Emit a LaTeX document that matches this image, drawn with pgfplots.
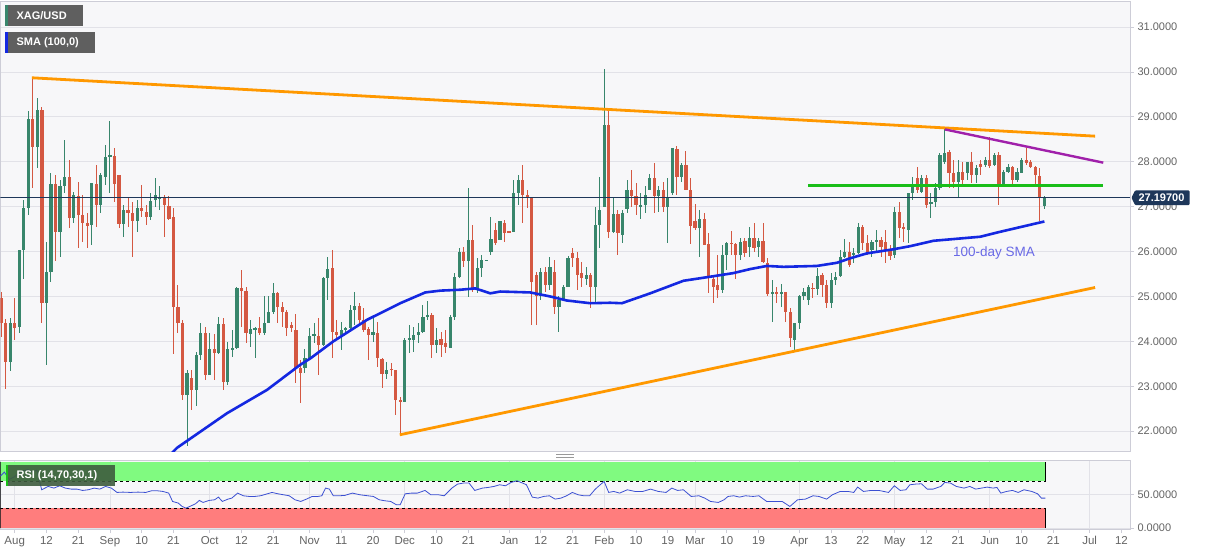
\documentclass[border=0pt]{standalone}
\usepackage{pgfplots}
\pgfplotsset{compat=1.18}
\usepackage{pgfplotstable}
\usepackage{fontspec}
\setmainfont{Liberation Sans}

\definecolor{cup}{RGB}{56,134,108}
\definecolor{cdn}{RGB}{212,88,66}
\definecolor{bgc}{RGB}{247,247,249}
\definecolor{gridc}{RGB}{226,226,232}
\definecolor{axisc}{RGB}{205,205,215}
\definecolor{labc}{RGB}{100,100,100}
\definecolor{trendor}{RGB}{255,152,0}
\definecolor{purp}{RGB}{160,32,170}
\definecolor{hgreen}{RGB}{25,190,25}
\definecolor{smablue}{RGB}{20,40,225}
\definecolor{navy}{RGB}{30,55,90}
\definecolor{rsiblue}{RGB}{60,80,210}
\definecolor{bandg}{RGB}{128,250,128}
\definecolor{bandr}{RGB}{255,125,125}
\definecolor{boxg}{RGB}{95,95,95}
\definecolor{boxrsi}{RGB}{62,92,62}
\definecolor{smatext}{RGB}{105,105,230}

\pgfplotstableread{
i O H L C
-1 23.55 24.51 23.33 24.40
1 24.33 26.03 24.18 26.03
2 26.03 27.15 25.40 26.96
3 26.96 29.12 26.81 28.95
5 28.32 29.41 27.85 29.15
7 24.85 26.22 23.47 25.55
8 25.55 27.74 25.33 27.50
10 26.44 27.59 25.89 27.46
11 27.46 28.48 27.30 27.67
13 26.74 27.33 26.63 27.26
17 26.59 27.52 26.15 27.52
19 27.04 27.74 26.85 27.71
20 27.67 28.37 27.48 28.11
21 28.11 28.91 27.30 28.15
24 26.61 27.04 26.33 26.93
27 26.69 27.15 26.44 26.96
30 26.76 27.30 26.70 27.13
31 27.15 27.63 27.00 27.26
32 27.16 27.45 26.93 27.22
38 22.81 23.36 21.68 23.29
40 22.92 23.77 22.55 23.70
41 23.70 24.42 23.59 24.19
43 23.25 24.19 23.25 23.82
45 23.75 24.55 23.73 24.38
47 23.10 23.99 23.03 23.82
48 23.81 24.25 23.66 23.86
49 23.86 25.20 23.84 25.18
52 24.17 24.48 23.88 24.27
53 24.26 24.33 23.62 24.29
55 24.18 25.00 24.14 24.42
56 24.42 25.00 24.40 24.66
57 24.66 25.31 24.62 25.07
64 23.40 23.84 23.29 23.62
65 23.62 24.29 23.59 24.11
66 24.11 24.40 23.96 24.16
68 23.92 25.44 23.90 25.41
69 25.41 25.87 24.92 25.61
72 24.14 24.44 23.81 24.26
73 24.26 24.33 24.22 24.29
74 24.29 24.81 24.26 24.70
75 24.70 25.11 24.37 24.79
79 24.14 24.52 23.99 24.20
82 23.28 23.55 23.16 23.36
86 22.64 24.07 22.64 24.03
87 24.03 24.37 23.74 24.07
88 24.03 24.31 23.77 24.14
89 24.14 24.40 23.96 24.22
90 24.22 24.81 24.18 24.55
91 24.55 24.89 24.48 24.59
93 23.92 24.29 23.74 24.03
96 23.85 24.59 23.85 24.55
97 24.55 25.52 24.48 25.44
98 25.44 26.07 25.41 26.00
100 25.79 27.41 24.99 26.26
102 25.18 25.85 25.07 25.63
103 25.63 25.92 25.44 25.81
104 25.81 25.81 25.81 25.81
105 26.00 26.78 25.92 26.29
107 26.26 26.67 26.26 26.67
110 26.44 27.59 26.44 27.30
111 27.30 27.71 27.04 27.59
116 25.00 25.63 24.92 25.55
118 25.26 25.89 25.14 25.66
120 24.77 25.00 24.21 24.92
121 24.92 25.26 24.90 25.22
122 25.22 25.90 25.20 25.85
126 25.38 25.66 25.26 25.48
128 25.22 26.99 24.88 26.59
129 26.59 27.67 26.07 26.93
130 27.00 30.06 27.00 28.82
132 26.44 27.19 26.41 26.84
134 26.37 26.93 26.20 26.85
135 26.94 27.59 26.85 27.36
138 27.00 27.30 26.72 27.04
139 27.04 27.46 26.85 27.26
140 27.37 27.73 27.37 27.63
142 27.24 27.45 26.89 27.37
144 27.00 27.63 26.20 27.22
145 27.30 28.30 27.26 28.30
147 27.67 27.97 27.56 27.93
151 26.52 26.93 25.89 26.72
156 25.15 26.15 25.07 25.93
157 25.93 26.22 25.59 26.20
160 25.93 26.30 25.82 26.22
162 26.11 26.54 25.89 26.30
164 26.11 26.30 25.89 26.24
167 25.05 25.37 24.44 25.11
169 25.05 25.28 24.77 25.11
172 24.02 24.41 23.78 24.41
173 24.41 25.03 24.27 25.00
174 25.00 25.18 24.92 25.09
175 24.92 25.26 24.81 25.20
177 25.16 25.63 25.03 25.46
180 24.85 25.52 24.74 25.37
181 25.37 25.55 25.26 25.44
182 25.46 26.04 25.44 25.88
183 25.88 26.29 25.85 26.00
185 25.92 26.07 25.74 25.96
186 25.96 26.64 25.94 26.55
189 26.03 26.25 25.89 26.22
190 26.22 26.48 25.96 26.26
194 25.92 27.00 25.85 26.89
197 26.48 27.30 26.18 27.30
198 27.30 27.67 27.15 27.44
200 27.33 27.70 27.30 27.63
202 27.06 27.30 26.74 27.11
203 27.11 27.52 27.00 27.41
204 27.41 28.20 27.38 28.15
205 28.00 28.74 27.96 28.20
208 27.56 28.04 27.22 27.78
210 27.74 28.00 27.59 28.00
212 27.70 27.93 27.52 27.85
214 27.93 28.11 27.89 28.04
216 27.93 28.19 27.90 28.15
218 27.50 27.82 27.48 27.78
219 27.78 27.96 27.76 27.88
221 27.59 27.85 27.56 27.78
222 27.76 28.08 27.74 28.04
227 27.02 27.24 26.94 27.197
}\upT

\pgfplotstableread{
i O H L C
-3 24.96 25.10 24.10 24.40
-2 24.40 24.50 22.95 23.55
0 24.40 24.96 24.03 24.29
4 28.95 29.88 27.41 28.32
6 29.15 29.23 24.40 24.85
9 27.50 27.71 25.78 26.44
12 27.67 28.04 26.52 26.74
14 27.24 27.56 26.07 26.81
15 26.81 27.26 26.22 26.63
16 26.63 26.85 26.07 26.58
18 27.50 27.93 26.55 27.04
22 28.13 28.30 27.11 27.50
23 27.71 27.71 26.52 26.61
25 26.93 27.19 26.55 26.85
26 26.85 27.11 25.89 26.67
28 26.96 27.48 26.78 26.91
29 26.89 27.04 26.59 26.76
33 27.19 27.26 26.33 27.04
34 27.01 27.24 26.70 26.72
35 26.78 26.96 23.73 24.77
36 24.77 25.26 24.18 24.40
37 24.40 24.48 22.69 22.81
39 23.18 23.36 22.47 22.92
42 24.19 24.33 23.14 23.25
44 23.82 24.17 23.14 23.75
46 24.38 24.51 22.92 23.10
50 25.18 25.59 24.33 25.12
51 25.12 25.22 23.96 24.18
54 24.29 24.55 24.14 24.18
58 25.07 25.11 24.40 24.77
59 24.77 24.88 24.33 24.66
60 24.66 24.70 24.11 24.29
61 24.36 24.44 24.22 24.29
62 24.25 24.62 23.07 23.40
63 23.40 23.59 22.62 23.29
67 24.12 24.52 23.25 23.92
70 25.63 26.04 23.62 24.22
71 24.22 24.48 24.07 24.14
76 24.79 24.85 24.40 24.48
77 24.48 24.74 24.22 24.26
78 24.27 24.33 23.59 24.14
80 24.18 24.44 23.44 23.62
81 23.60 23.62 22.96 23.28
83 23.39 23.51 23.22 23.36
84 23.36 23.36 22.36 22.70
85 22.70 22.77 21.92 22.64
92 24.59 24.63 23.62 23.92
94 24.05 24.22 23.66 23.92
95 23.96 24.26 23.74 23.87
99 26.00 26.11 25.66 25.79
101 26.26 26.59 25.10 25.14
106 26.48 26.63 26.15 26.18
108 26.63 26.70 26.22 26.42
109 26.44 26.44 26.44 26.44
112 27.59 27.93 26.63 27.26
113 27.26 27.37 26.96 27.19
114 27.19 27.19 24.36 25.33
115 25.48 25.55 24.36 25.00
117 25.55 25.66 25.10 25.26
119 25.55 25.81 24.62 24.77
123 25.96 26.07 25.66 25.85
124 25.85 26.00 25.14 25.48
125 25.52 25.77 25.22 25.41
127 25.48 25.52 24.74 25.22
131 28.82 29.15 26.30 26.44
133 26.84 26.93 25.92 26.41
136 27.36 27.82 27.00 27.24
137 27.24 27.52 26.81 27.04
141 27.63 27.97 26.85 27.24
143 27.37 27.56 26.89 27.00
146 28.28 28.35 27.26 27.67
148 27.93 28.23 27.37 27.37
149 27.37 27.63 26.17 26.57
150 26.67 27.07 26.47 26.52
152 26.72 26.85 26.15 26.15
153 26.17 26.41 25.07 25.44
154 25.38 25.48 24.85 25.22
155 25.26 25.92 24.96 25.15
158 26.20 26.46 25.93 26.17
159 26.17 26.20 25.40 25.93
161 26.24 26.30 25.89 25.96
163 26.30 26.64 26.00 26.07
165 26.24 26.63 25.74 25.77
166 25.74 25.85 25.00 25.05
168 25.11 25.22 24.85 25.05
170 25.11 25.11 24.44 24.66
171 24.66 24.74 23.88 24.07
176 25.20 25.29 24.96 25.16
178 25.48 25.52 24.99 25.26
179 25.26 25.37 24.74 24.85
184 26.00 26.22 25.65 25.70
187 26.55 26.59 26.04 26.20
188 26.20 26.37 25.92 26.00
191 26.26 26.33 25.89 26.11
192 26.22 26.48 25.74 26.03
193 26.03 26.15 25.81 25.90
195 26.89 27.11 26.30 26.52
196 26.54 26.63 26.22 26.50
199 27.63 27.89 27.30 27.37
201 27.63 27.70 26.96 27.04
206 28.22 28.26 27.41 27.74
207 27.74 28.04 27.41 27.56
209 27.78 28.00 27.48 27.59
211 28.00 28.22 27.52 27.70
213 27.96 28.04 27.70 27.89
215 28.04 28.56 27.85 27.91
217 28.15 28.22 27.04 27.50
220 27.88 27.90 27.48 27.59
223 28.04 28.30 27.93 27.98
224 28.00 28.05 27.85 27.88
225 27.88 27.90 27.48 27.70
226 27.69 27.85 26.67 27.21
}\dnT

\pgfplotstableread{
px p
160 21.25
176.7 21.63
226.7 22.40
266.7 22.92
300 23.48
310 23.62
333 24.00
366.7 24.48
400 24.85
425 25.09
440 25.13
460 25.15
475 25.18
490 25.07
500 25.11
530 25.09
550 25.00
566.7 24.91
590 24.85
610 24.86
621.7 24.85
650 25.07
683.3 25.35
710 25.44
733 25.52
750 25.61
766.7 25.68
783.3 25.66
816.7 25.68
836.7 25.75
850 25.85
866.7 25.96
893 26.05
910 26.12
933.3 26.24
980 26.33
1000 26.44
1044.3 26.67
}\smaT

\pgfplotstableread{
px v
0 78
4 84
9 73
14 77
18 82
23 86
27.5 88
32 84
36.5 87
41.3 57.5
47.8 62.5
53.6 60
59.3 63.5
65 60
70.8 58.5
76.5 58.5
82.3 56.5
88 57.5
93.8 60
99.5 58.5
105.2 62.5
111 60
116.7 53.5
122.5 54
130.1 53.5
137.8 54
145.4 53.5
151.2 56
156.9 56
162.6 55
168.4 52.5
172.2 40
178 37.5
181.8 32.5
185.6 30
189.4 32.5
195.2 36.5
199 41.5
202.8 38.5
208.6 41.5
214.3 42.5
218.1 46.5
222 40
227.7 43.5
231.5 45
237.3 52.5
243 48.5
248.8 47.5
254.5 47.5
260.2 48.5
266 51
271.7 53.5
277.5 51.5
283.2 50
288.9 48.5
294.7 42.5
300.4 40
306.2 43.5
311.9 47.5
317.6 47.5
321.5 48.5
325.3 60
329.1 58.5
333 48.5
338.7 48.5
344.4 49
352.1 52.5
359.7 50
367.4 48.5
373.1 47.5
378.9 42.5
384.6 41
390.4 40
396.1 35
399.9 35
404.9 51.5
411.4 52.5
417.1 52.5
424.8 56.5
430.5 50
438.2 50
443.9 48.5
451.6 60
457.3 66
463.1 67.5
468.8 67.5
474.5 56.5
482.2 60
487.9 61
493.7 62.5
499.4 65
505.2 63.5
510.9 68.5
516.6 71
522.4 67.5
526.2 65
532 46.5
537.7 45
543.4 47.5
549.2 48.5
554.9 43.5
560.7 45
566.4 48.5
572.1 53.5
577.9 50
583.6 48.5
589.4 48.5
595.1 58.5
600 65
603.9 70
608.5 53.5
613.5 55
619.4 52.5
627.1 57.5
634.8 55
642.6 55
650.3 58.5
658.1 55
665.8 53.5
671.6 60
677.4 56.5
683.2 57.5
691 47.5
698.7 48.5
704.5 45
710.3 40
718.1 38.5
723.9 42.5
727.8 47.5
733.6 48.5
739.4 46.5
745.2 48.5
752.9 47.5
758.7 48.5
766.5 40
774.2 40
782 40
789.7 32.5
797.4 42.5
805.2 43.5
812.9 48.5
818.7 47.5
826.5 43.5
832.3 50
840 55
847.8 55
853.6 53.5
857.5 61.5
863.3 55
871 56.5
878.7 56.5
888.4 53.5
894.2 63.5
900 56.5
905.8 57.5
909.7 65
915.5 66
921.3 66.5
927.1 58.5
932.9 58.5
940.7 62.5
944.6 68.5
950.4 67.5
956.2 62.5
963.9 60
969.7 62.5
975.5 58.5
981.3 60
987.1 61.5
993 60
996.8 61
1000.7 52.5
1006.5 55
1012.3 56.5
1018.1 53.5
1023.9 57.5
1031.7 55
1037.5 51.5
1041.3 45
1045.2 45
}\rsiT

\begin{document}
\begin{tikzpicture}[x=1pt,y=1pt]
\fill[white] (0,0) rectangle (1207,555);

% ---------------- main price panel ----------------
\begin{axis}[
  at={(0pt,103pt)}, anchor=south west,
  width=1130pt, height=451pt, scale only axis,
  xmin=-3.15, xmax=245.9, ymin=21.54, ymax=31.58,
  axis background/.style={fill=bgc},
  axis line style={draw=axisc, line width=0.8pt},
  xtick=\empty,
  minor xtick={0,21,43,65,86,109,130,150,173,194,215,237},
  minor tick length=0pt,
  xminorgrids, ymajorgrids,
  minor grid style={draw=gridc, line width=0.8pt},
  major grid style={draw=gridc, line width=0.8pt},
  ytick={22,23,...,31},
  ytick pos=right, yticklabel pos=right,
  tick align=outside, major tick length=4pt,
  tick style={draw=axisc, line width=0.8pt},
  scaled y ticks=false,
  y tick label style={/pgf/number format/.cd, fixed, fixed zerofill, precision=4, assume math mode=true, /tikz/.cd, font=\fontsize{11}{13}\selectfont, text=labc},
]
% wicks
\addplot[draw=none, mark=none, forget plot, error bars/.cd, y dir=both, y explicit, error mark=none,
  error bar style={draw=cup, line width=1pt}]
  table[x=i, y expr={(\thisrow{H}+\thisrow{L})/2}, y error expr={(\thisrow{H}-\thisrow{L})/2}] {\upT};
\addplot[draw=none, mark=none, forget plot, error bars/.cd, y dir=both, y explicit, error mark=none,
  error bar style={draw=cdn, line width=1pt}]
  table[x=i, y expr={(\thisrow{H}+\thisrow{L})/2}, y error expr={(\thisrow{H}-\thisrow{L})/2}] {\dnT};
% bodies
\addplot[draw=none, mark=none, forget plot, error bars/.cd, y dir=both, y explicit, error mark=none,
  error bar style={draw=cup, line width=3.2pt}]
  table[x=i, y expr={(\thisrow{O}+\thisrow{C})/2}, y error expr={max(abs(\thisrow{C}-\thisrow{O})/2,0.012)}] {\upT};
\addplot[draw=none, mark=none, forget plot, error bars/.cd, y dir=both, y explicit, error mark=none,
  error bar style={draw=cdn, line width=3.2pt}]
  table[x=i, y expr={(\thisrow{O}+\thisrow{C})/2}, y error expr={max(abs(\thisrow{C}-\thisrow{O})/2,0.012)}] {\dnT};
% current price line
\addplot[navy, line width=0.9pt] coordinates {(-3.15,27.197) (245.9,27.197)};
% 100-day SMA
\addplot[smablue, line width=2.6pt] table[x expr={(\thisrow{px}-14.3)/4.537}, y=p] {\smaT};
% trend lines
\addplot[trendor, line width=2.8pt] coordinates {(3.8,29.87) (238.2,28.57)};
\addplot[trendor, line width=2.8pt] coordinates {(84.9,21.92) (238.2,25.20)};
\addplot[purp, line width=2.4pt] coordinates {(205.1,28.72) (240.0,27.98)};
\addplot[hgreen, line width=2.8pt] coordinates {(175.0,27.48) (240.0,27.48)};
\node[text=smatext, font=\fontsize{13.5}{15}\selectfont] at (axis cs:215.9,25.97) {100-day SMA};
\end{axis}

% ---------------- RSI panel ----------------
\begin{axis}[
  at={(0pt,25.7pt)}, anchor=south west,
  width=1130pt, height=68.6pt, scale only axis,
  xmin=-3.15, xmax=245.9, ymin=-1.5, ymax=101.3,
  axis background/.style={fill=bgc},
  axis line style={draw=axisc, line width=0.8pt},
  xtick={0,7,14,21,28,35,43,50,57,65,72,79,86,93,100,109,116,123,130,137,144,150,157,164,173,180,187,194,201,208,215,222,229,237,244},
  xticklabels={Aug,12,21,Sep,10,21,Oct,12,21,Nov,11,20,Dec,10,21,Jan,12,21,Feb,10,19,Mar,10,19,Apr,13,22,May,12,21,Jun,10,21,Jul,12},
  xtick pos=bottom,
  minor xtick={0,21,43,65,86,109,130,150,173,194,215,237},
  minor tick length=0pt,
  xminorgrids, ymajorgrids,
  minor grid style={draw=gridc, line width=0.8pt},
  major grid style={draw=gridc, line width=0.8pt},
  ytick={0,50},
  ytick pos=right, yticklabel pos=right,
  tick align=outside, major tick length=4pt,
  tick style={draw=axisc, line width=0.8pt},
  scaled y ticks=false,
  y tick label style={/pgf/number format/.cd, fixed, fixed zerofill, precision=4, assume math mode=true, /tikz/.cd, font=\fontsize{11}{13}\selectfont, text=labc},
  x tick label style={font=\fontsize{11.5}{13}\selectfont, text=labc},
]
\fill[bandg] (axis cs:-3.15,70) rectangle (axis cs:227.3,98.5);
\fill[bandr] (axis cs:-3.15,0) rectangle (axis cs:227.3,30);
\draw[black, dashed, line width=0.7pt] (axis cs:-3.15,70) -- (axis cs:227.3,70);
\draw[black, dashed, line width=0.7pt] (axis cs:-3.15,30) -- (axis cs:227.3,30);
\draw[black, line width=0.8pt] (axis cs:227.3,70) -- (axis cs:227.3,98.5);
\draw[black, line width=0.8pt] (axis cs:227.3,0) -- (axis cs:227.3,30);
\draw[black, line width=0.8pt] (axis cs:-3.1,0) -- (axis cs:-3.1,98.5);
\addplot[rsiblue, line width=0.8pt] table[x expr={(\thisrow{px}-14.3)/4.537}, y=v] {\rsiT};
\end{axis}

% ---------------- overlays ----------------
\fill[boxg] (5,529) rectangle (83,550);
\fill[cup] (5,529) rectangle (7.5,550);
\node[anchor=west, text=white, font=\fontsize{11}{13}\selectfont\bfseries, inner sep=0] at (16,539.5) {XAG/USD};
\fill[boxg] (5,502) rectangle (95,523);
\fill[smablue] (5,502) rectangle (7.5,523);
\node[anchor=west, text=white, font=\fontsize{11}{13}\selectfont\bfseries, inner sep=0] at (16,512.5) {SMA (100,0)};
\fill[boxrsi, opacity=0.9] (5.5,69) rectangle (115,90);
\fill[hgreen] (5.5,69) rectangle (8,90);
\node[anchor=west, text=white, font=\fontsize{11}{13}\selectfont\bfseries, inner sep=0] at (16,79.5) {RSI (14,70,30,1)};
\fill[navy, rounded corners=1pt] (1131.5,357.2) -- (1135,364.5) -- (1189.5,364.5) -- (1189.5,349.8) -- (1135,349.8) -- cycle;
\node[anchor=west, text=white, font=\fontsize{11}{13}\selectfont\bfseries, inner sep=0] at (1138.3,357.2) {27.19700};
\draw[gray!80, line width=0.7pt] (556,100.5) -- (574,100.5);
\draw[gray!80, line width=0.7pt] (556,98) -- (574,98);
\end{tikzpicture}
\end{document}
